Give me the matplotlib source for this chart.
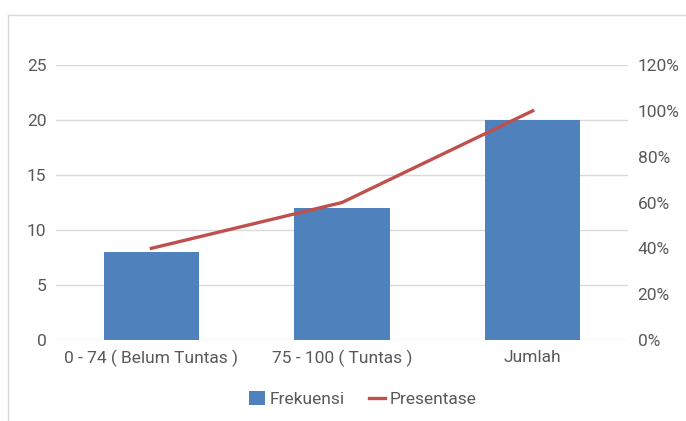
import matplotlib.pyplot as plt
from matplotlib.lines import Line2D
from matplotlib.ticker import FuncFormatter

# Data
kategori = ['0 - 74 ( Belum Tuntas )', '75 - 100 ( Tuntas )', 'Jumlah']
frekuensi = [8, 12, 20]
presentase = [0.40, 0.60, 1.00]

plt.rcParams['font.family'] = ['Roboto', 'DejaVu Sans']
grey_text = '#595959'
grid_col = '#d9d9d9'
fs = 12.5

fig = plt.figure(figsize=(6.86, 4.21), dpi=100)
ax = fig.add_axes([56 / 686, 1 - 340 / 421, (628 - 56) / 686, (340 - 65) / 421])

x = list(range(len(kategori)))
bars = ax.bar(x, frekuensi, width=0.5, color='#4F81BD', label='Frekuensi', zorder=2)
ax.set_xlim(-0.5, len(kategori) - 0.5)
ax.set_ylim(0, 25)
ax.set_yticks([0, 5, 10, 15, 20, 25])
ax.set_xticks(x)
ax.set_xticklabels(kategori)
ax.yaxis.grid(True, color=grid_col, linewidth=1, zorder=0)
ax.set_axisbelow(True)
for s in ax.spines.values():
    s.set_visible(False)
ax.tick_params(axis='both', length=0, labelsize=fs, labelcolor=grey_text)
ax.tick_params(axis='y', pad=7)
ax.tick_params(axis='x', pad=7)

# second axis for the percentage line
ax2 = ax.twinx()
line, = ax2.plot(x, presentase, color='#C0504D', linewidth=2.4, label='Presentase', zorder=3)
ax2.set_ylim(0, 1.2)
ax2.set_yticks([0, 0.2, 0.4, 0.6, 0.8, 1.0, 1.2])
ax2.yaxis.set_major_formatter(FuncFormatter(lambda v, p: '{:.0f}%'.format(v * 100)))
for s in ax2.spines.values():
    s.set_visible(False)
ax2.tick_params(axis='y', length=0, labelsize=fs, labelcolor=grey_text, pad=7)

fig.legend([bars, line], ['Frekuensi', 'Presentase'], loc='center', bbox_to_anchor=(363 / 686, 1 - 399 / 421),
           ncol=2, frameon=False, fontsize=fs, labelcolor=grey_text, handlelength=0.9, handleheight=0.9,
           handletextpad=0.3, columnspacing=1.4)

# outer frame (only top and left visible in the crop)
fig.add_artist(Line2D([8 / 686, 1], [1 - 15 / 421, 1 - 15 / 421], color=grid_col, linewidth=1))
fig.add_artist(Line2D([8 / 686, 8 / 686], [0, 1 - 15 / 421], color=grid_col, linewidth=1))

fig.savefig('out.png', dpi=100)
